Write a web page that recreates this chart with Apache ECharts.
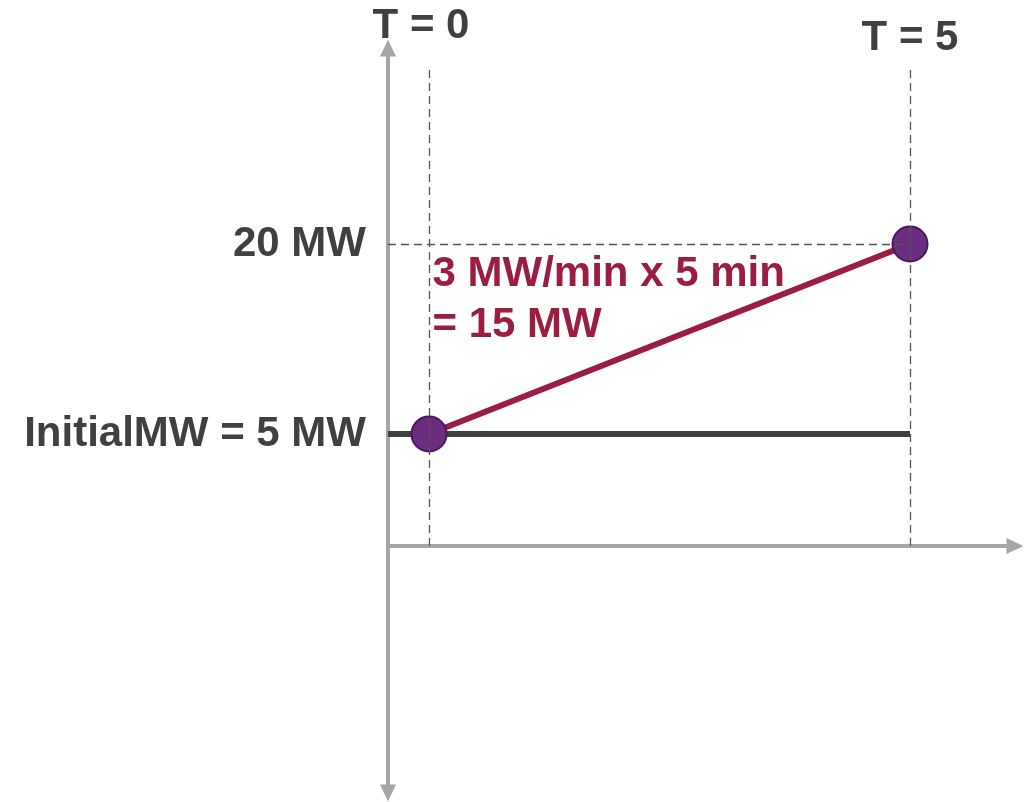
<!DOCTYPE html>
<html>
<head>
<meta charset="utf-8">
<script src="https://cdn.jsdelivr.net/npm/echarts@6/dist/echarts.min.js"></script>
<style>
  html, body { margin: 0; padding: 0; background: #ffffff; }
  #chart { width: 1025px; height: 802px; }
</style>
</head>
<body>
<div id="chart"></div>
<script>
// ---- data ----
const timeMarks = [0, 5];                       // minutes (T = 0, T = 5)
const timeLabels = ['T = 0', 'T = 5'];
const initialMW = 5;
const rampMW = [5, 20];                         // MW at T = 0 and T = 5
const yLabelValues = [5, 20];
const yLabelTexts = ['InitialMW = 5 MW', '20 MW'];
const annotationLines = ['3 MW/min x 5 min', '= 15 MW'];

// ---- axis extents (layout) ----
const X_MIN = -0.4262, X_MAX = 6.0915;
const Y_MIN = -3.842, Y_MAX = 35.47;
const DASH_TOP = 34.13;

const FONT = "'Liberation Sans', Arial, sans-serif";
const FS = 42;
const AXIS_GRAY = '#a6a6a6';
const TEXT_DARK = '#404040';
const RED = '#9b1d42';
const PURPLE = '#6b2d7f';

const rampData = timeMarks.map((t, i) => [t, rampMW[i]]);
const baseData = [[X_MIN, initialMW], [timeMarks[1], initialMW]];

const chart = echarts.init(document.getElementById('chart'), null, { renderer: 'canvas' });

chart.setOption({
  animation: false,
  backgroundColor: '#ffffff',
  grid: [
    { left: 388, right: 10, top: 48, bottom: 256 },
    { left: 388, width: 20, top: 546, bottom: 9 }
  ],
  xAxis: [
    {
      type: 'value', gridIndex: 0, min: X_MIN, max: X_MAX,
      axisLine: { show: true, onZero: false, symbol: ['none', 'triangle'], symbolSize: [16, 17],
        lineStyle: { color: AXIS_GRAY, width: 4 } },
      axisTick: { show: false }, axisLabel: { show: false }, splitLine: { show: false }
    },
    { type: 'value', gridIndex: 1, show: false, min: 0, max: 1 }
  ],
  yAxis: [
    {
      type: 'value', gridIndex: 0, min: Y_MIN, max: Y_MAX,
      axisLine: { show: true, onZero: false, symbol: ['none', 'triangle'], symbolSize: [16, 17],
        lineStyle: { color: AXIS_GRAY, width: 4 } },
      axisTick: { show: false },
      splitLine: { show: false },
      axisLabel: {
        show: true,
        customValues: yLabelValues,
        margin: 22,
        color: TEXT_DARK,
        fontFamily: FONT,
        fontWeight: 'bold',
        fontSize: FS,
        padding: [8, 0, 0, 0],
        formatter: (v) => {
          const i = yLabelValues.findIndex(x => Math.abs(x - v) < 1e-6);
          return i >= 0 ? yLabelTexts[i] : '';
        }
      }
    },
    {
      type: 'value', gridIndex: 1, min: 0, max: 1,
      axisLine: { show: true, onZero: false, symbol: ['triangle', 'none'], symbolSize: [16, 17],
        lineStyle: { color: AXIS_GRAY, width: 4 } },
      axisTick: { show: false }, axisLabel: { show: false }, splitLine: { show: false }
    }
  ],
  series: [
    {
      name: 'guides',
      type: 'line',
      xAxisIndex: 0, yAxisIndex: 0,
      data: [],
      silent: true,
      markLine: {
        silent: true,
        symbol: ['none', 'none'],
        label: { show: false },
        lineStyle: { color: '#555555', width: 1.3, type: [8, 5] },
        data: [
          [{ coord: [timeMarks[0], Y_MIN] }, { coord: [timeMarks[0], DASH_TOP] }],
          [{ coord: [timeMarks[1], Y_MIN] }, { coord: [timeMarks[1], DASH_TOP] }],
          [{ coord: [X_MIN, rampMW[1]] }, { coord: [timeMarks[1], rampMW[1]] }]
        ]
      },
      markPoint: {
        silent: true,
        symbol: 'circle',
        symbolSize: 1,
        itemStyle: { color: 'rgba(0,0,0,0)' },
        label: {
          show: true, color: TEXT_DARK, fontFamily: FONT, fontWeight: 'bold', fontSize: FS,
          position: 'inside'
        },
        data: [
          { coord: [timeMarks[0], DASH_TOP], value: timeLabels[0],
            label: { formatter: timeLabels[0], offset: [-8, -39] } },
          { coord: [timeMarks[1], DASH_TOP], value: timeLabels[1],
            label: { formatter: timeLabels[1], offset: [0, -27] } },
          { coord: [timeMarks[0], rampMW[1]], value: 0,
            label: { formatter: annotationLines.join('\n'), position: [4, 5],
              align: 'left', verticalAlign: 'top', color: RED, lineHeight: 51, fontSize: FS } }
        ]
      }
    },
    {
      name: 'initial',
      type: 'line',
      xAxisIndex: 0, yAxisIndex: 0,
      data: baseData,
      showSymbol: false,
      symbol: 'none',
      lineStyle: { color: TEXT_DARK, width: 6 },
      z: 3
    },
    {
      name: 'ramp',
      type: 'line',
      xAxisIndex: 0, yAxisIndex: 0,
      data: rampData,
      symbol: 'circle',
      symbolSize: 35,
      showSymbol: true,
      lineStyle: { color: RED, width: 6 },
      itemStyle: { color: PURPLE, borderColor: '#4a1b5c', borderWidth: 2 },
      z: 4
    }
  ]
});
</script>
</body>
</html>
